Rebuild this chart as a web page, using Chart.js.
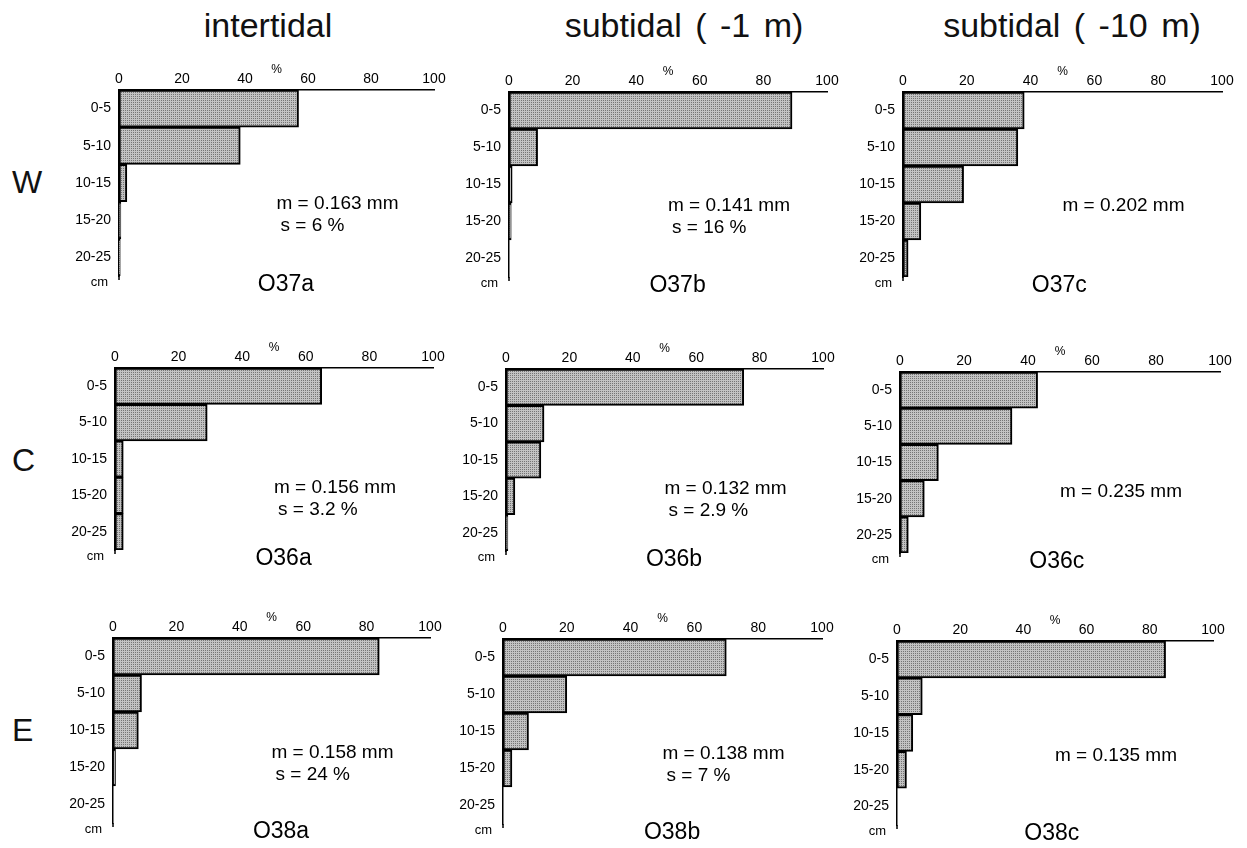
<!DOCTYPE html>
<html>
<head>
<meta charset="utf-8">
<script src="https://cdn.jsdelivr.net/npm/chart.js@4.4.1/dist/chart.umd.min.js"></script>
<style>
  html, body { margin: 0; padding: 0; background: #fff; overflow: hidden; }
  body { width: 1247px; height: 848px; position: relative; font-family: "Liberation Sans", Arial, sans-serif; color: #111; }
  .colTitle { position: absolute; font-size: 34px; line-height: 34px; white-space: nowrap; word-spacing: 4px; transform: translateX(-50%); }
  .rowLabel { position: absolute; font-size: 32px; line-height: 32px; }
  canvas.panel { position: absolute; }
</style>
</head>
<body>
<script>
// depth classes and % of sand per sample
const depthLabels = ['0-5', '5-10', '10-15', '15-20', '20-25'];
const o37a = [57, 38.5, 2.5, 0.6, 0.4];
const o37b = [89, 9, 1, 0.7, 0];
const o37c = [38, 36, 19, 5.6, 1.6];
const o36a = [65, 29, 2.6, 2.6, 2.6];
const o36b = [75, 12, 11, 2.8, 0.6];
const o36c = [43, 35, 12, 7.6, 2.6];
const o38a = [84, 9, 8, 0.8, 0];
const o38b = [70, 20, 8, 2.8, 0];
const o38c = [85, 8, 5, 3, 0];

const sampleNames = ['O37a', 'O37b', 'O37c', 'O36a', 'O36b', 'O36c', 'O38a', 'O38b', 'O38c'];
const sampleValues = [o37a, o37b, o37c, o36a, o36b, o36c, o38a, o38b, o38c];
const meanSizes = ['m = 0.163 mm', 'm = 0.141 mm', 'm = 0.202 mm',
                   'm = 0.156 mm', 'm = 0.132 mm', 'm = 0.235 mm',
                   'm = 0.158 mm', 'm = 0.138 mm', 'm = 0.135 mm'];
const sortings = ['s = 6 %', 's = 16 %', '', 's = 3.2 %', 's = 2.9 %', '', 's = 24 %', 's = 7 %', ''];
const columnTitles = ['intertidal', 'subtidal ( -1 m)', 'subtidal ( -10 m)'];
const rowLabels = ['W', 'C', 'E'];

// layout: chart areas [left, top, right, bottom] in page pixels
const areas = [
  [119, 90, 434, 276], [509, 92, 827, 277], [903, 92, 1222, 277],
  [115, 368, 433, 550], [506, 369, 823, 551], [900, 372, 1220, 553],
  [113, 638, 430, 823], [503, 639, 822, 824], [897, 641, 1213, 825]
];
const titleX = [268, 684, 1072];
const rowLabelPos = [[12, 166], [12, 444], [12, 714]];
const textRowY = [114, 120, 115];
const nameFrac = [0.53, 0.53, 0.49];

const FONT = '"Liberation Sans", Arial, sans-serif';
const PAD_L = 60, PAD_T = 40, PAD_R = 22, PAD_B = 30;

columnTitles.forEach((t, i) => {
  const d = document.createElement('div');
  d.className = 'colTitle';
  d.textContent = t;
  d.style.left = titleX[i] + 'px';
  d.style.top = '8px';
  document.body.appendChild(d);
});
rowLabels.forEach((t, i) => {
  const d = document.createElement('div');
  d.className = 'rowLabel';
  d.textContent = t;
  d.style.left = rowLabelPos[i][0] + 'px';
  d.style.top = rowLabelPos[i][1] + 'px';
  document.body.appendChild(d);
});

// stippled grey fill like the printed bars
const pc = document.createElement('canvas');
pc.width = 2; pc.height = 2;
const pctx = pc.getContext('2d');
pctx.fillStyle = '#c2c2c2';
pctx.fillRect(0, 0, 2, 2);
pctx.fillStyle = '#747474';
pctx.fillRect(0, 0, 1, 1);
const stipple = pctx.createPattern(pc, 'repeat');

areas.forEach(([l, t, r, b], i) => {
  const cv = document.createElement('canvas');
  cv.className = 'panel';
  cv.width = r - l + PAD_L + PAD_R;
  cv.height = b - t + PAD_T + PAD_B;
  cv.style.left = (l - PAD_L) + 'px';
  cv.style.top = (t - PAD_T) + 'px';
  cv.style.width = cv.width + 'px';
  cv.style.height = cv.height + 'px';
  document.body.appendChild(cv);

  const row = Math.floor(i / 3), col = i % 3;

  new Chart(cv, {
    type: 'bar',
    data: {
      labels: depthLabels,
      datasets: [{
        data: sampleValues[i],
        backgroundColor: stipple,
        borderColor: '#000',
        borderWidth: 2,
        borderSkipped: false,
        barPercentage: 1,
        categoryPercentage: 1
      }]
    },
    options: {
      indexAxis: 'y',
      responsive: false,
      animation: false,
      devicePixelRatio: 1,
      layout: {padding: {left: 0, top: 0, right: PAD_R, bottom: PAD_B}},
      plugins: {legend: {display: false}, tooltip: {enabled: false}},
      scales: {
        x: {
          position: 'top',
          min: 0,
          max: 100,
          afterFit: s => { s.height = PAD_T; },
          ticks: {stepSize: 20, color: '#000', padding: 2, font: {family: FONT, size: 14}},
          grid: {display: false, drawTicks: false},
          border: {color: '#000', width: 1.5},
          title: {display: true, text: '%', color: '#000', font: {family: FONT, size: 12}, padding: {top: 12, bottom: 0}}
        },
        y: {
          afterFit: s => { s.width = PAD_L; },
          ticks: {color: '#000', padding: 8, font: {family: FONT, size: 14}},
          grid: {display: false, drawTicks: false},
          border: {color: '#000', width: 1.5}
        }
      }
    },
    plugins: [{
      id: 'panelText',
      afterDraw(chart) {
        const a = chart.chartArea;
        const ctx = chart.ctx;
        const w = a.right - a.left;
        ctx.save();
        // depth axis runs on a little below the last class
        ctx.strokeStyle = '#000';
        ctx.lineWidth = 1.5;
        ctx.beginPath();
        ctx.moveTo(a.left, a.bottom);
        ctx.lineTo(a.left, a.bottom + 4);
        ctx.stroke();
        ctx.fillStyle = '#000';
        ctx.textBaseline = 'middle';
        // depth unit under the axis
        ctx.font = '13px ' + FONT;
        ctx.textAlign = 'right';
        ctx.fillText('cm', a.left - 11, a.bottom + 6);
        // mean grain size and sorting
        ctx.font = '19px ' + FONT;
        ctx.textAlign = 'left';
        const my = a.top + textRowY[row];
        ctx.fillText(meanSizes[i], a.left + 0.5 * w, my);
        if (sortings[i]) ctx.fillText(sortings[i], a.left + 0.5 * w + 4, my + 22);
        // sample name
        ctx.font = '23px ' + FONT;
        ctx.textAlign = 'center';
        ctx.fillText(sampleNames[i], a.left + nameFrac[col] * w, a.bottom + 9);
        ctx.restore();
      }
    }]
  });
});
</script>
</body>
</html>
